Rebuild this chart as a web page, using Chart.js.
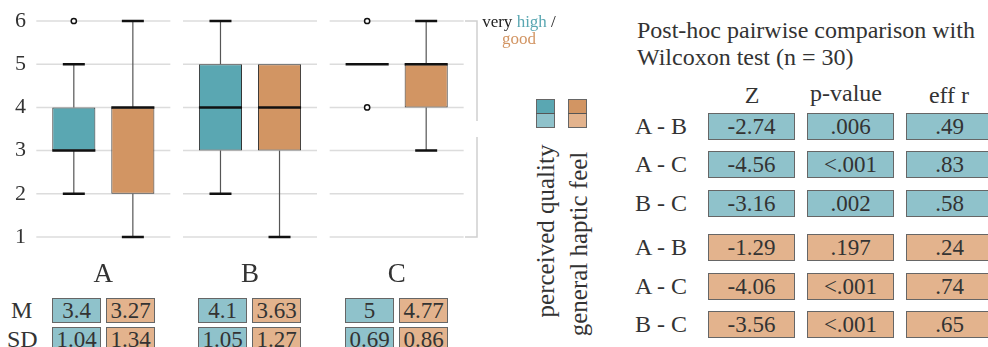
<!DOCTYPE html>
<html>
<head>
<meta charset="utf-8">
<script src="https://cdn.jsdelivr.net/npm/chart.js@4"></script>
<style>
  body { margin: 0; background: #fff; font-family: "Liberation Serif", "Times New Roman", Times, "DejaVu Serif", serif; color: #333; }
  #wrap { position: relative; width: 988px; height: 347px; overflow: hidden; }
  .abs { position: absolute; white-space: nowrap; }
  .cell { position: absolute; box-sizing: border-box; border: 1px solid #666; text-align: center;
          font-size: 23px; line-height: 23px; color: #333; }
  .teal { background: #8fc2cb; }
  .orange { background: #e3b38d; }
  .lbl { position: absolute; font-size: 24px; line-height: 24px; white-space: nowrap; }
</style>
</head>
<body>
<div id="wrap">
  <canvas id="boxChart" width="480" height="290" class="abs" style="left:0;top:0"></canvas>
</div>
<script>
// boxplot summaries (Likert 1-6)
const groups = ['A', 'B', 'C'];

const qualityMin = [2, 2, 5];
const qualityQ1 = [3, 3, 5];
const qualityMedian = [3, 4, 5];
const qualityQ3 = [4, 5, 5];
const qualityMax = [5, 6, 5];
const qualityOutliers = [[6], [], [6, 4]];

const hapticMin = [1, 1, 3];
const hapticQ1 = [2, 3, 4];
const hapticMedian = [4, 4, 5];
const hapticQ3 = [4, 5, 5];
const hapticMax = [6, 5, 6];
const hapticOutliers = [[], [], []];

// descriptive stats
const qualityMean = ['3.4', '4.1', '5'];
const qualitySD = ['1.04', '1.05', '0.69'];
const hapticMean = ['3.27', '3.63', '4.77'];
const hapticSD = ['1.34', '1.27', '0.86'];

// post-hoc Wilcoxon
const pairs = ['A - B', 'A - C', 'B - C'];
const qualityZ = ['-2.74', '-4.56', '-3.16'];
const qualityP = ['.006', '<.001', '.002'];
const qualityR = ['.49', '.83', '.58'];
const hapticZ = ['-1.29', '-4.06', '-3.56'];
const hapticP = ['.197', '<.001', '<.001'];
const hapticR = ['.24', '.74', '.65'];

const TEAL = '#5aa7b2';
const ORANGE = '#d29563';
const FONT = '"Liberation Serif", "Times New Roman", Times, "DejaVu Serif", serif';

const summaries = [
  { min: qualityMin, q1: qualityQ1, med: qualityMedian, q3: qualityQ3, max: qualityMax, out: qualityOutliers },
  { min: hapticMin, q1: hapticQ1, med: hapticMedian, q3: hapticQ3, max: hapticMax, out: hapticOutliers }
];

// grid segments per group + bracket on the right
const gridPlugin = {
  id: 'segGrid',
  beforeDatasetsDraw(chart) {
    const { ctx, chartArea, scales: { x, y } } = chart;
    ctx.save();
    ctx.strokeStyle = '#dcdcdc';
    ctx.lineWidth = 1.5;
    groups.forEach((g, i) => {
      const cx = x.getPixelForValue(i);
      [1, 2, 3, 4, 5, 6].forEach(v => {
        const py = y.getPixelForValue(v);
        ctx.beginPath();
        ctx.moveTo(cx - 67, py);
        ctx.lineTo(cx + 67, py);
        ctx.stroke();
      });
    });
    const bx = chartArea.right + 7;
    const top = y.getPixelForValue(6), bot = y.getPixelForValue(1);
    const mid = (top + bot) / 2;
    ctx.strokeStyle = '#d0d0d0';
    ctx.beginPath();
    ctx.moveTo(chartArea.right - 5, top); ctx.lineTo(bx, top); ctx.lineTo(bx, mid - 8);
    ctx.moveTo(bx, mid + 8); ctx.lineTo(bx, bot); ctx.lineTo(chartArea.right - 5, bot);
    ctx.stroke();
    ctx.restore();
  },
  afterDatasetsDraw(chart) {
    const { ctx, scales: { y } } = chart;
    ctx.save();
    summaries.forEach((s, d) => {
      const meta = chart.getDatasetMeta(d);
      meta.data.forEach((bar, i) => {
        const cx = bar.x, w = bar.width;
        const yMin = y.getPixelForValue(s.min[i]), yMax = y.getPixelForValue(s.max[i]);
        const yQ1 = y.getPixelForValue(s.q1[i]), yQ3 = y.getPixelForValue(s.q3[i]);
        const yMed = y.getPixelForValue(s.med[i]);
        // whiskers
        ctx.strokeStyle = '#555';
        ctx.lineWidth = 1.2;
        ctx.beginPath();
        ctx.moveTo(cx, yQ3); ctx.lineTo(cx, yMax);
        ctx.moveTo(cx, yQ1); ctx.lineTo(cx, yMin);
        ctx.stroke();
        // caps
        ctx.strokeStyle = '#111';
        ctx.lineWidth = 2.5;
        ctx.beginPath();
        if (s.max[i] > s.q3[i]) { ctx.moveTo(cx - 11, yMax); ctx.lineTo(cx + 11, yMax); }
        if (s.min[i] < s.q1[i]) { ctx.moveTo(cx - 11, yMin); ctx.lineTo(cx + 11, yMin); }
        ctx.stroke();
        // median
        ctx.beginPath();
        ctx.moveTo(cx - w / 2, yMed); ctx.lineTo(cx + w / 2, yMed);
        ctx.stroke();
        // outliers
        ctx.lineWidth = 1.5;
        s.out[i].forEach(v => {
          ctx.beginPath();
          ctx.arc(cx, y.getPixelForValue(v), 2.6, 0, Math.PI * 2);
          ctx.fillStyle = '#fff';
          ctx.fill();
          ctx.stroke();
        });
      });
    });
    ctx.restore();
  }
};

new Chart(document.getElementById('boxChart'), {
  type: 'bar',
  data: {
    labels: groups,
    datasets: [
      { label: 'perceived quality', data: groups.map((g, i) => [qualityQ1[i], qualityQ3[i]]),
        backgroundColor: TEAL, borderColor: '#333', borderWidth: 1, borderSkipped: false },
      { label: 'general haptic feel', data: groups.map((g, i) => [hapticQ1[i], hapticQ3[i]]),
        backgroundColor: ORANGE, borderColor: '#333', borderWidth: 1, borderSkipped: false }
    ]
  },
  options: {
    responsive: false,
    animation: false,
    categoryPercentage: 0.805,
    barPercentage: 0.73,
    layout: { padding: { top: 21, right: 10, left: 0, bottom: 0 } },
    plugins: { legend: { display: false }, tooltip: { enabled: false } },
    scales: {
      x: {
        grid: { display: false, drawTicks: false },
        border: { display: false },
        ticks: { color: '#333', font: { family: FONT, size: 27 }, padding: 22 },
        afterFit(scale) { scale.height = 53; }
      },
      y: {
        min: 1, max: 6,
        grid: { display: false, drawTicks: false },
        border: { display: false },
        ticks: { stepSize: 1, color: '#333', font: { family: FONT, size: 22 }, padding: 4 },
        afterFit(scale) { scale.width = 30; }
      }
    }
  },
  plugins: [gridPlugin]
});

// ---- html parts ----
const wrap = document.getElementById('wrap');
function add(html) { wrap.insertAdjacentHTML('beforeend', html); }

// top-right note
add('<div class="abs" style="left:478px;top:13px;width:82px;text-align:center;font-size:17px;line-height:17px;color:#222">very <span style="color:' + TEAL + '">high</span> /<br><span style="color:' + ORANGE + '">good</span></div>');

// legend swatches
add('<div class="abs" style="left:536px;top:99px;width:19px;height:29px;border:1px solid #666;box-sizing:border-box;background:linear-gradient(' + TEAL + ' 0 50%, #8fc2cb 50% 100%)"></div>');
add('<div class="abs" style="left:568px;top:99px;width:19px;height:29px;border:1px solid #666;box-sizing:border-box;background:linear-gradient(' + ORANGE + ' 0 50%, #e3b38d 50% 100%)"></div>');
add('<div class="abs" style="left:536px;top:113px;width:19px;height:1px;background:#555"></div>');
add('<div class="abs" style="left:568px;top:113px;width:19px;height:1px;background:#555"></div>');
add('<div class="abs" style="left:546px;top:231px;font-size:25px;transform:translate(-50%,-50%) rotate(-90deg)">perceived quality</div>');
add('<div class="abs" style="left:579px;top:244px;font-size:25px;transform:translate(-50%,-50%) rotate(-90deg)">general haptic feel</div>');

// M / SD table
add('<div class="lbl" style="left:11px;top:298px">M</div>');
add('<div class="lbl" style="left:7px;top:327px">SD</div>');
const mdLeft = [52, 198, 345];
groups.forEach((g, i) => {
  const l = mdLeft[i];
  add('<div class="cell teal" style="left:' + l + 'px;top:298px;width:49px;height:25px">' + qualityMean[i] + '</div>');
  add('<div class="cell orange" style="left:' + (l + 54) + 'px;top:298px;width:49px;height:25px">' + hapticMean[i] + '</div>');
  add('<div class="cell teal" style="left:' + l + 'px;top:327px;width:49px;height:25px">' + qualitySD[i] + '</div>');
  add('<div class="cell orange" style="left:' + (l + 54) + 'px;top:327px;width:49px;height:25px">' + hapticSD[i] + '</div>');
});

// post-hoc table
add('<div class="abs" style="left:637px;top:17px;font-size:24px;line-height:27px;color:#333">Post-hoc pairwise comparison with<br>Wilcoxon test (n = 30)</div>');
add('<div class="lbl" style="left:720px;top:83px;width:64px;text-align:center">Z</div>');
add('<div class="lbl" style="left:804px;top:81px;width:84px;text-align:center">p-value</div>');
add('<div class="lbl" style="left:906px;top:83px;width:86px;text-align:center">eff r</div>');
const rowTops = [113, 151, 190, 234, 273, 311];
const colLefts = [708, 807, 906];
const rows = [];
pairs.forEach((p, i) => rows.push({ label: p, cls: 'teal', vals: [qualityZ[i], qualityP[i], qualityR[i]] }));
pairs.forEach((p, i) => rows.push({ label: p, cls: 'orange', vals: [hapticZ[i], hapticP[i], hapticR[i]] }));
rows.forEach((r, k) => {
  const t = rowTops[k];
  add('<div class="lbl" style="left:635px;top:' + (t + 1) + 'px">' + r.label + '</div>');
  r.vals.forEach((v, j) => {
    add('<div class="cell ' + r.cls + '" style="left:' + colLefts[j] + 'px;top:' + t + 'px;width:87px;height:27px;line-height:25px">' + v.replace('<', '&lt;') + '</div>');
  });
});
</script>
</body>
</html>
